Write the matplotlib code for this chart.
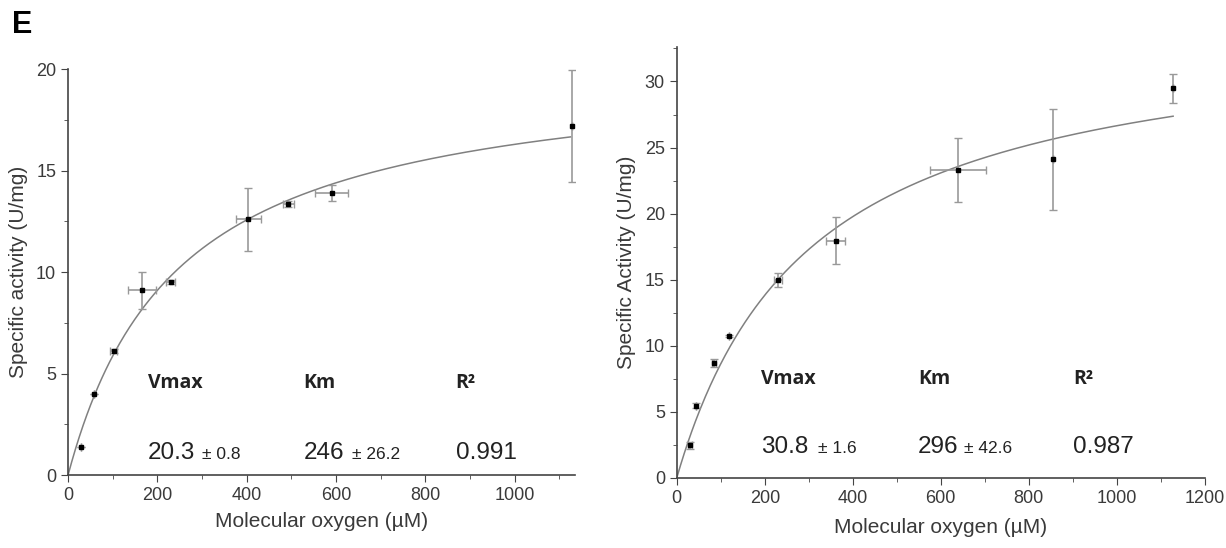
import numpy as np
import matplotlib.pyplot as plt
from matplotlib.ticker import MultipleLocator

# left panel data
left_x = [28, 57, 102, 165, 230, 403, 493, 590, 1128]
left_y = [1.37, 3.99, 6.1, 9.1, 9.5, 12.6, 13.35, 13.9, 17.2]
left_xerr = [0, 0, 8, 31, 10, 28, 12, 36, 0]
left_yerr = [0, 0, 0.1, 0.9, 0.1, 1.55, 0.15, 0.4, 2.75]
left_vmax, left_km = 20.3, 246

# right panel data
right_x = [30, 43, 85, 118, 230, 361, 639, 855, 1128]
right_y = [2.45, 5.46, 8.7, 10.74, 14.99, 17.94, 23.3, 24.1, 29.5]
right_xerr = [5, 0, 5, 0, 10, 21, 64, 0, 0]
right_yerr = [0.3, 0.2, 0.3, 0.1, 0.55, 1.78, 2.45, 3.8, 1.1]
# curve as drawn in the figure
right_curve_vmax, right_curve_km = 34.7, 302

LINE = '#808080'
ERR = '#999999'
TXT = '#3a3a3a'


def mm(s, vmax, km):
    return vmax * s / (km + s)


def style_axes(ax):
    ax.spines['top'].set_visible(False)
    ax.spines['right'].set_visible(False)
    for sp in ['left', 'bottom']:
        ax.spines[sp].set_color('#444444')
        ax.spines[sp].set_linewidth(1.2)
    ax.tick_params(which='major', direction='out', length=5, colors='#444444',
                   labelsize=13, labelcolor=TXT)
    ax.tick_params(which='minor', direction='out', length=3, colors='#444444')
    for lab in ax.get_xticklabels() + ax.get_yticklabels():
        lab.set_family('Liberation Sans')


def draw_panel(ax, x, y, xerr, yerr, vmax, km, xend):
    s = np.linspace(0, xend, 400)
    ax.plot(s, mm(s, vmax, km), color=LINE, lw=1.1, zorder=2)
    ax.errorbar(x, y, xerr=xerr, yerr=yerr, fmt='s', ms=3.2, color='black',
                ecolor=ERR, elinewidth=1.2, capsize=3, capthick=1.0, zorder=3)


def add_stats(ax, pos, vals):
    xs, yh, yv = pos
    for xh, head in zip(xs[0::2], ['Vmax', 'Km', 'R²']):
        ax.text(xh, yh, head, fontsize=14, fontweight='bold', color='#222222',
                family='Open Sans', va='baseline')
    for xv, v, big in zip(xs, vals, [True, False, True, False, True]):
        ax.text(xv, yv, v, fontsize=17.5 if big else 12.5, color='#222222',
                family='Liberation Sans', va='baseline')


fig = plt.figure(figsize=(12.26, 5.48), dpi=100)

ax1 = fig.add_axes([0.0555, 0.133, 0.4135, 0.741])
draw_panel(ax1, left_x, left_y, left_xerr, left_yerr, left_vmax, left_km, 1125)
ax1.set_xlim(0, 1135)
ax1.set_ylim(0, 20)
ax1.xaxis.set_major_locator(MultipleLocator(200))
ax1.xaxis.set_minor_locator(MultipleLocator(100))
ax1.yaxis.set_major_locator(MultipleLocator(5))
ax1.yaxis.set_minor_locator(MultipleLocator(2.5))
style_axes(ax1)
ax1.set_xlabel('Molecular oxygen (µM)', fontsize=15, color=TXT,
               family='Liberation Sans', labelpad=6)
ax1.set_ylabel('Specific activity (U/mg)', fontsize=15, color=TXT,
               family='Liberation Sans', labelpad=6)
add_stats(ax1, ([179, 300, 527, 636, 868], 4.3, 0.8),
          ['20.3', '± 0.8', '246', '± 26.2', '0.991'])

ax2 = fig.add_axes([0.552, 0.128, 0.4307, 0.786])
draw_panel(ax2, right_x, right_y, right_xerr, right_yerr,
           right_curve_vmax, right_curve_km, 1128)
ax2.set_xlim(0, 1200)
ax2.set_ylim(0, 32.6)
ax2.xaxis.set_major_locator(MultipleLocator(200))
ax2.xaxis.set_minor_locator(MultipleLocator(100))
ax2.yaxis.set_major_locator(MultipleLocator(5))
ax2.yaxis.set_minor_locator(MultipleLocator(2.5))
style_axes(ax2)
ax2.set_xlabel('Molecular oxygen (µM)', fontsize=15, color=TXT,
               family='Liberation Sans', labelpad=8)
ax2.set_ylabel('Specific Activity (U/mg)', fontsize=15, color=TXT,
               family='Liberation Sans', labelpad=6)
add_stats(ax2, ([191, 321, 548, 652, 900], 7.1, 1.9),
          ['30.8', '± 1.6', '296', '± 42.6', '0.987'])

fig.text(0.010, 0.94, 'E', fontsize=22, fontweight='bold', family='Liberation Sans')

fig.savefig('out.png', dpi=100, facecolor='white')
